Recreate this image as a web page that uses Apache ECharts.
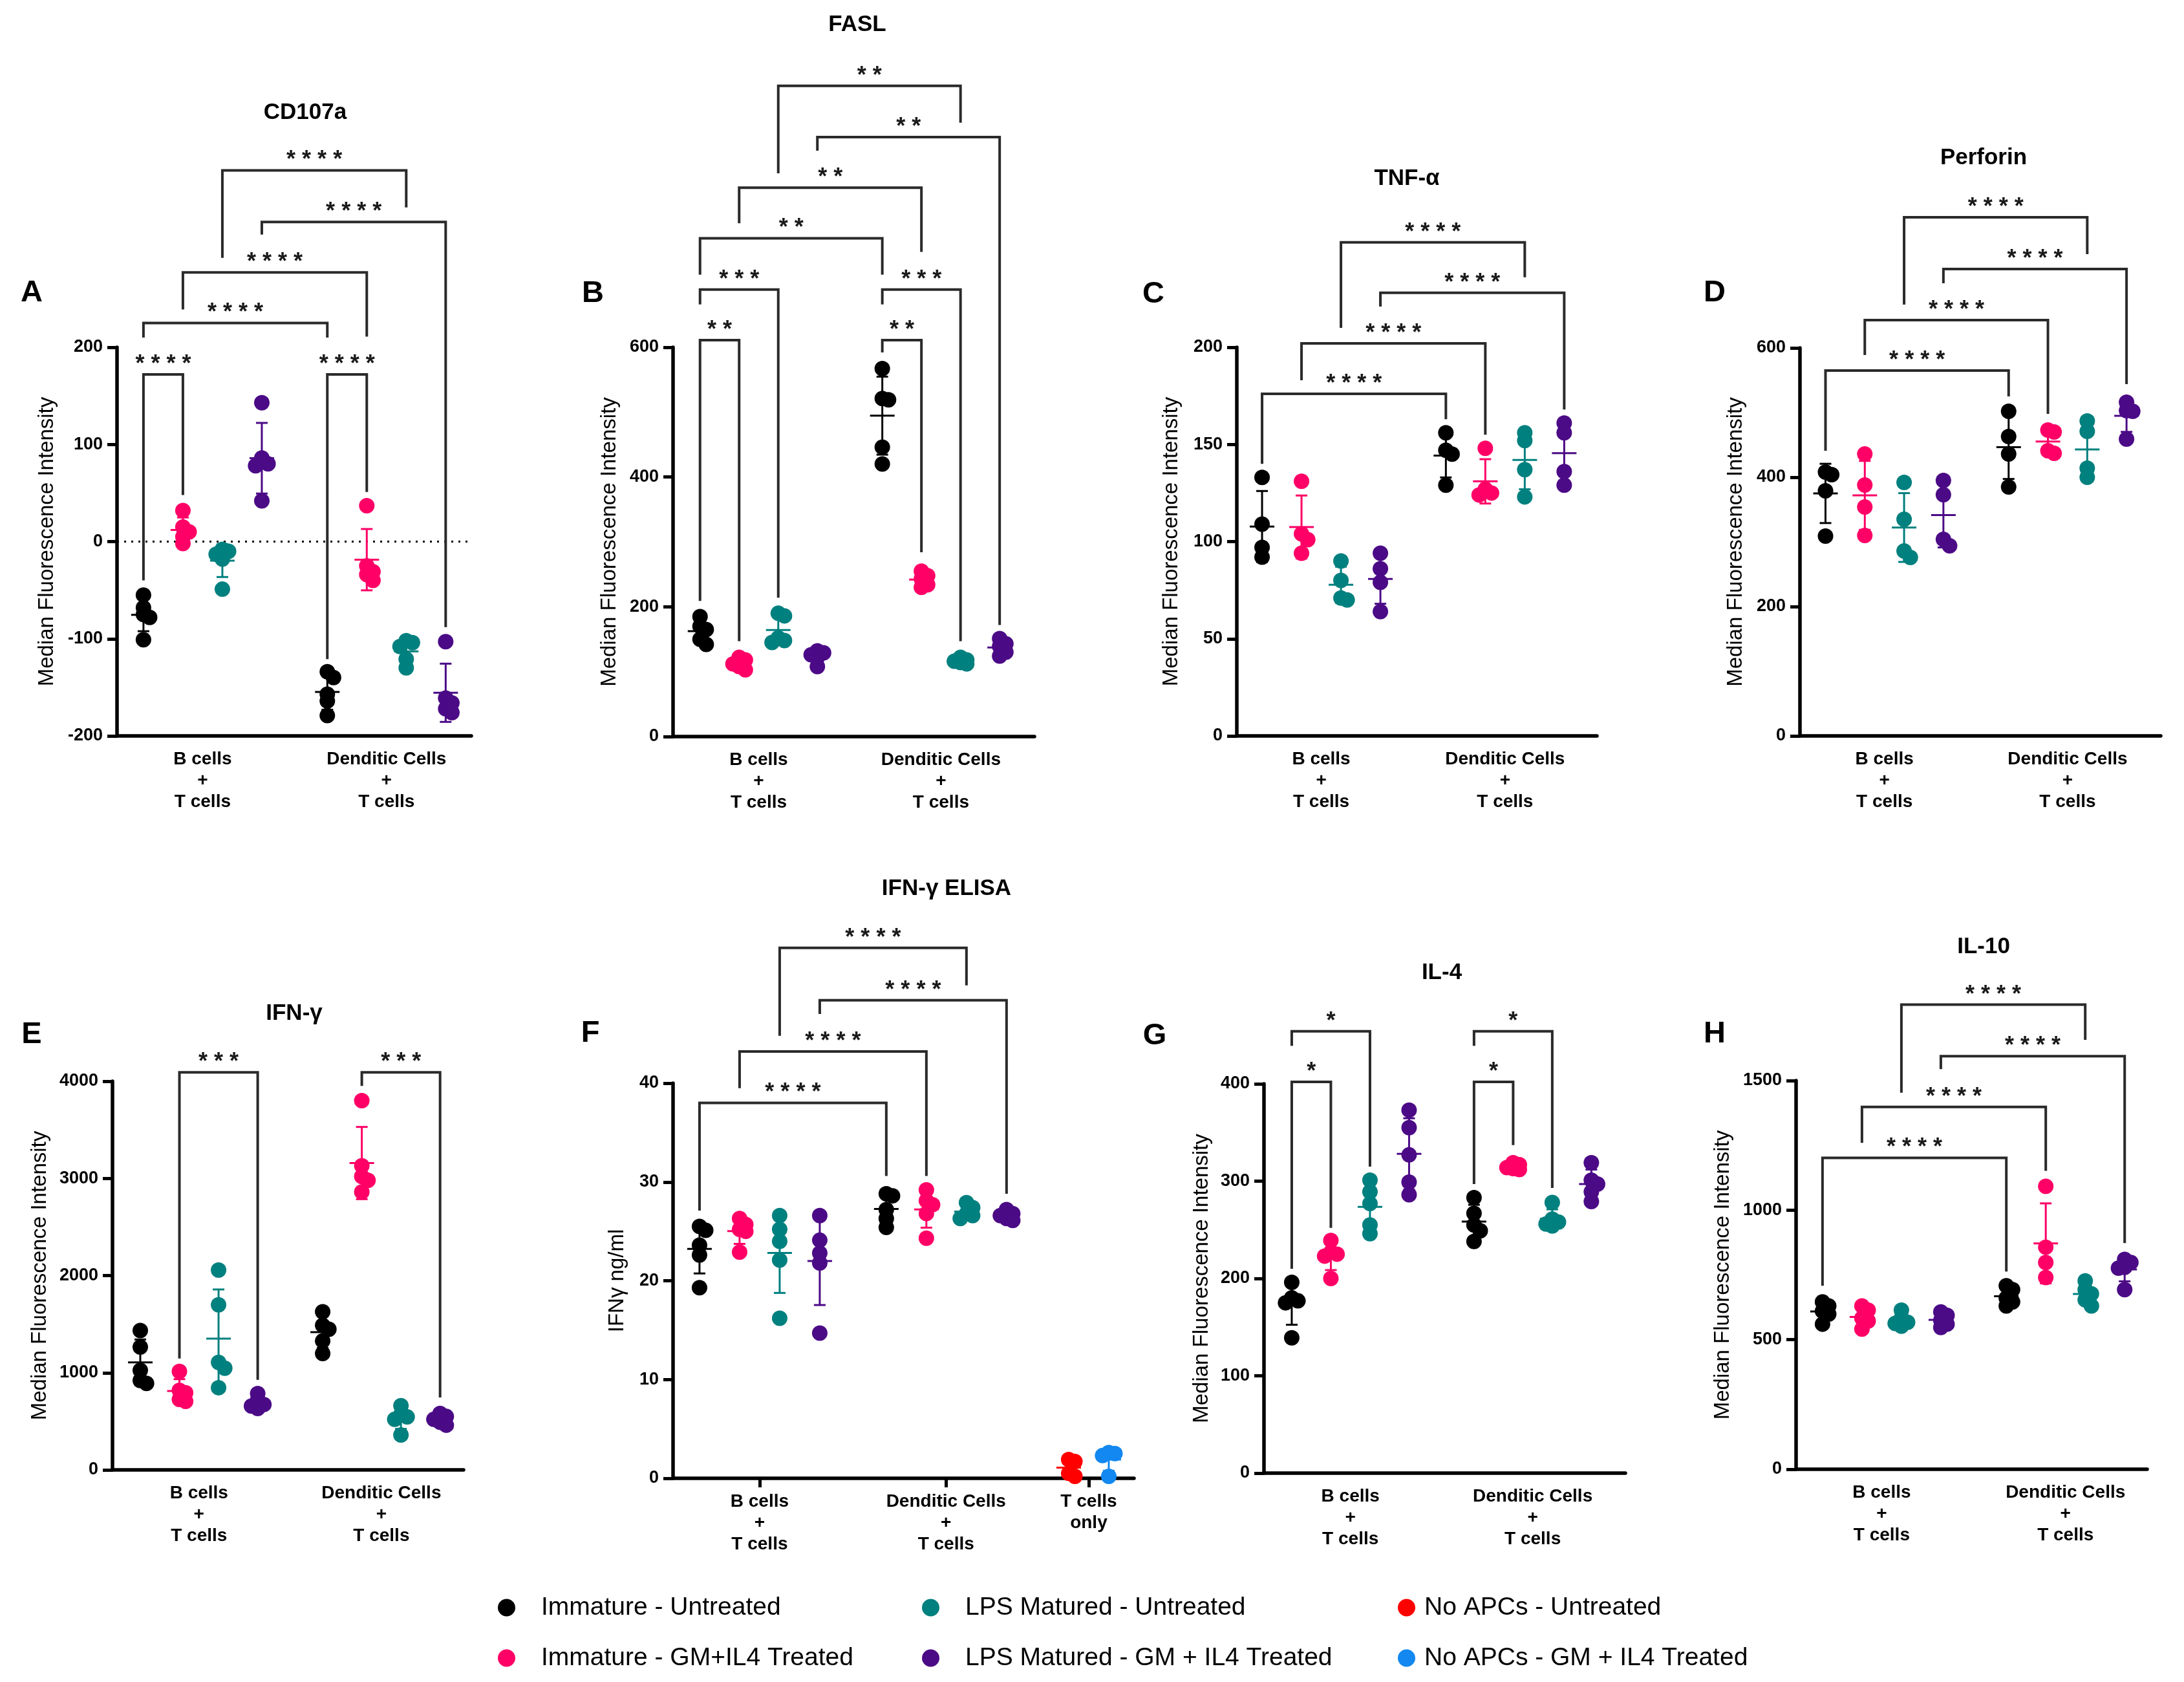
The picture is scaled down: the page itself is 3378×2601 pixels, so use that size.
<!DOCTYPE html>
<html><head><meta charset="utf-8">
<script src="https://cdn.jsdelivr.net/npm/echarts@6/dist/echarts.min.js"></script>
<style>html,body{margin:0;padding:0;background:#fff;}#chart{width:3378px;height:2601px;}</style>
</head><body><div id="chart"></div>
<script>
// ---------------- data ----------------
const groupNames = ['Immature - Untreated', 'Immature - GM+IL4 Treated', 'LPS Matured - Untreated', 'LPS Matured - GM + IL4 Treated'];
const noApcNames = ['No APCs - Untreated', 'No APCs - GM + IL4 Treated'];
const categoryLabels = ['B cells\n+\nT cells', 'Denditic Cells\n+\nT cells'];
const tOnlyLabel = 'T cells\nonly';

// CD107a
const cd107aTicks = [-200, -100, 0, 100, 200];
const cd107aB = [[-55, -68, -75, -78, -101], [32, 15, 10, 5, -2], [-8, -10, -13, -18, -49], [143, 86, 80, 78, 42]];
const cd107aDC = [[-134, -140, -157, -164, -179], [37, -25, -31, -34, -40], [-102, -104, -108, -121, -130], [-103, -161, -166, -172, -176]];
const cd107aSig = [[0, 1, '****', 172, -40, 48], [4, 5, '****', 172, -121, 51], [0, 4, '****', 225, 210, 210], [1, 5, '****', 277, 239, 211], [3, 7, '****', 329, 316, -88], [2, 6, '****', 382, 292, 344]];
// FASL
const faslTicks = [0, 200, 400, 600];
const faslB = [[185, 170, 165, 150, 142], [122, 118, 112, 108, 103], [190, 186, 152, 148, 145], [132, 129, 126, 122, 108]];
const faslDC = [[567, 521, 519, 446, 420], [255, 248, 243, 234, 230], [122, 118, 116, 114, 112], [151, 143, 139, 130, 124]];
const faslSig = [[0, 1, '**', 611, 209, 147], [0, 2, '***', 689, 666, 214], [0, 4, '**', 768, 712, 712], [1, 5, '**', 846, 791, 747], [3, 7, '**', 924, 903, 172], [2, 6, '**', 1003, 868, 946], [4, 5, '**', 611, 592, 284], [4, 6, '***', 689, 666, 147]];
// TNF-a
const tnfTicks = [0, 50, 100, 150, 200];
const tnfB = [[133, 109, 97, 92], [131, 104, 101, 94], [90, 80, 71, 70], [94, 86, 79, 64]];
const tnfDC = [[156, 147, 145, 129], [148, 127, 125, 124], [156, 152, 137, 123], [161, 156, 136, 129]];
const tnfSig = [[0, 4, '****', 176, 140, 163], [1, 5, '****', 202, 183, 155], [3, 7, '****', 228, 221, 168], [2, 6, '****', 254, 210, 236]];
// Perforin
const perforinTicks = [0, 200, 400, 600];
const perforinB = [[408, 404, 379, 309], [436, 388, 354, 310], [392, 335, 286, 276], [395, 373, 304, 294]];
const perforinDC = [[502, 463, 436, 385], [473, 470, 441, 437], [487, 471, 414, 400], [516, 503, 502, 459]];
const perforinSig = [[0, 4, '****', 565, 441, 525], [1, 5, '****', 643, 589, 498], [3, 7, '****', 722, 700, 544], [2, 6, '****', 802, 667, 745]];
// IFN-g (MFI)
const ifngTicks = [0, 1000, 2000, 3000, 4000];
const ifngB = [[1435, 1265, 1025, 920, 890], [1014, 818, 794, 725, 705], [2056, 1699, 1106, 1046, 846], [786, 717, 673, 657, 633]];
const ifngDC = [[1627, 1487, 1447, 1327, 1198], [3800, 3130, 3020, 2980, 2860], [660, 570, 545, 520, 360], [580, 550, 520, 490, 460]];
const ifngSig = [[1, 3, '***', 4092, 1146, 926], [5, 7, '***', 4092, 3952, 745]];
// IFN-g ELISA
const elisaTicks = [0, 10, 20, 30, 40];
const elisaB = [[25.5, 25.1, 23.6, 22.6, 19.3], [26.3, 25.7, 25.2, 25.0, 22.9], [26.6, 25.2, 24.0, 22.1, 16.2], [26.6, 24.1, 22.8, 21.8, 14.7]];
const elisaDC = [[28.8, 28.6, 27.2, 26.3, 25.4], [29.2, 28.1, 27.7, 26.8, 24.3], [27.9, 27.4, 26.8, 26.6, 26.3], [27.2, 26.8, 26.6, 26.3, 26.1]];
const elisaTOnly = [[1.9, 1.7, 0.5, 0.2], [2.6, 2.5, 2.3, 0.2]];
const elisaSig = [[0, 4, '****', 38.0, 27.1, 30.6], [1, 5, '****', 43.2, 39.5, 30.6], [3, 7, '****', 48.4, 47.0, 28.8], [2, 6, '****', 53.7, 44.8, 49.9]];
// IL-4
const il4Ticks = [0, 100, 200, 300, 400];
const il4B = [[196, 180, 177, 175, 139], [239, 227, 225, 223, 200], [301, 289, 277, 255, 246], [373, 355, 327, 299, 286]];
const il4DC = [[283, 267, 255, 249, 238], [319, 317, 314, 313, 312], [278, 261, 258, 256, 254], [319, 301, 297, 289, 279]];
const il4Sig = [[0, 1, '*', 402, 210, 252], [0, 2, '*', 454, 439, 315], [4, 5, '*', 402, 297, 337], [4, 6, '*', 454, 439, 293]];
// IL-10
const il10Ticks = [0, 500, 1000, 1500];
const il10B = [[646, 630, 610, 599, 560], [630, 614, 583, 572, 541], [614, 583, 567, 563, 552], [607, 594, 575, 560, 547]];
const il10DC = [[708, 693, 661, 646, 630], [1092, 857, 798, 740], [727, 693, 677, 654, 630], [810, 798, 779, 776, 693]];
const il10Sig = [[0, 4, '****', 1202, 708, 763], [1, 5, '****', 1398, 1260, 1152], [3, 7, '****', 1594, 1544, 873], [2, 6, '****', 1793, 1453, 1657]];

// ---------------- styles / layout ----------------
const colors = ['#000000', '#FF0066', '#00807E', '#4B0A86'];
const noApcColors = ['#FF0000', '#1288F0'];
const FF = "'Liberation Sans', Arial, Helvetica, sans-serif";
const MFI = 'Median Fluorescence Intensity';
const DOT = 24;
const groupPos = [1, 2, 3, 4, 5.66, 6.66, 7.66, 8.66];
const tOnlyPos = [10.21, 11.21];

const panels = [
  { title: 'CD107a', letter: 'A', yName: MFI, B: cd107aB, DC: cd107aDC, sig: cd107aSig, ticks: cd107aTicks, box: [181, 537, 729, 1138], xr: [0.33, 9.31], titleAt: [472, 174], letterAt: [49, 453], yNameX: 73, zero: true },
  { title: 'FASL', letter: 'B', yName: MFI, B: faslB, DC: faslDC, sig: faslSig, ticks: faslTicks, box: [1041, 537, 1600, 1139], xr: [0.31, 9.55], titleAt: [1326, 38], letterAt: [917, 454], yNameX: 943 },
  { title: 'TNF-\u03b1', letter: 'C', yName: MFI, B: tnfB, DC: tnfDC, sig: tnfSig, ticks: tnfTicks, box: [1913, 537, 2470, 1138], xr: [0.36, 9.49], titleAt: [2176, 276], letterAt: [1784, 455], yNameX: 1812 },
  { title: 'Perforin', letter: 'D', yName: MFI, B: perforinB, DC: perforinDC, sig: perforinSig, ticks: perforinTicks, box: [2784, 538, 3342, 1138], xr: [0.35, 9.53], titleAt: [3068, 244], letterAt: [2652, 453], yNameX: 2685 },
  { title: 'IFN-\u03b3', letter: 'E', yName: MFI, B: ifngB, DC: ifngDC, sig: ifngSig, ticks: ifngTicks, box: [174, 1672, 717, 2273], xr: [0.29, 9.26], titleAt: [455, 1567], letterAt: [49, 1600], yNameX: 62 },
  { title: 'IFN-\u03b3 ELISA', letter: 'F', yName: 'IFN\u03b3 ng/ml', B: elisaB, DC: elisaDC, sig: elisaSig, ticks: elisaTicks, box: [1041, 1675, 1754, 2286], xr: [0.34, 11.84], titleAt: [1464, 1374], letterAt: [913, 1598], yNameX: 955, tOnly: elisaTOnly },
  { title: 'IL-4', letter: 'G', yName: MFI, B: il4B, DC: il4DC, sig: il4Sig, ticks: il4Ticks, box: [1955, 1676, 2514, 2278], xr: [0.29, 9.53], titleAt: [2230, 1504], letterAt: [1786, 1602], yNameX: 1859 },
  { title: 'IL-10', letter: 'H', yName: MFI, B: il10B, DC: il10DC, sig: il10Sig, ticks: il10Ticks, box: [2778, 1671, 3321, 2272], xr: [0.33, 9.23], titleAt: [3068, 1464], letterAt: [2652, 1599], yNameX: 2665 }
];

function meanSd(a) {
  const m = a.reduce((s, v) => s + v, 0) / a.length;
  const v = a.reduce((s, x) => s + (x - m) * (x - m), 0) / (a.length - 1);
  return [m, Math.sqrt(v)];
}
// compact beeswarm: small horizontal offsets (in x units); dots may overlap partly
function swarm(values, pxY, pxX) {
  const order = values.map((v, i) => i).sort((a, b) => values[b] - values[a]);
  const placed = [], off = new Array(values.length).fill(0);
  const step = 0.4 * DOT, th = 0.42 * DOT;
  const cands = [0, 1, -1];
  for (const i of order) {
    const y = values[i] * pxY;
    let best = null, bestD = -1;
    for (const k of cands) {
      const x = k * step;
      const dmin = placed.length ? Math.min(...placed.map(p => Math.hypot(p[0] - x, p[1] - y))) : 1e9;
      if (dmin >= th) { best = x; break; }
      if (dmin > bestD) { bestD = dmin; best = x; }
    }
    placed.push([best, y]);
    off[i] = best / pxX;
  }
  return off;
}

const grids = [], xAxes = [], yAxes = [], series = [], graphics = [];
const axisLineStyle = { color: '#000', width: 5.5 };

panels.forEach((p, pi) => {
  const [l, t, r, b] = p.box;
  const ymin = p.ticks[0], ymax = p.ticks[p.ticks.length - 1], yint = p.ticks[1] - p.ticks[0];
  grids.push({ left: l, top: t, width: r - l, height: b - t, containLabel: false, outerBoundsMode: 'none' });
  const centers = p.tOnly ? [2.5, 7.15, 10.71] : [2.5, 7.16];
  const labels = p.tOnly ? [categoryLabels[0], categoryLabels[1], tOnlyLabel] : categoryLabels;
  xAxes.push({
    type: 'value', gridIndex: pi, min: p.xr[0], max: p.xr[1],
    axisLine: { show: true, onZero: false, lineStyle: axisLineStyle },
    axisTick: { show: !!p.tOnly, customValues: centers, length: 14, lineStyle: { color: '#000', width: 5 } },
    axisLabel: {
      customValues: centers, margin: 20, color: '#000', fontFamily: FF, fontSize: 28, fontWeight: 'bold', lineHeight: 33,
      formatter: v => { let k = 0, d = 1e9; centers.forEach((c, i) => { if (Math.abs(c - v) < d) { d = Math.abs(c - v); k = i; } }); return labels[k]; }
    },
    splitLine: { show: false }
  });
  yAxes.push({
    type: 'value', gridIndex: pi, min: ymin, max: ymax, interval: yint,
    axisLine: { show: true, onZero: false, lineStyle: axisLineStyle },
    axisTick: { show: true, length: 15, lineStyle: { color: '#000', width: 5 } },
    axisLabel: { margin: 22, color: '#000', fontFamily: FF, fontSize: 27, fontWeight: 'bold', formatter: v => String(v) },
    splitLine: { show: false }
  });
  const pxY = (b - t) / (ymax - ymin), pxX = (r - l) / (p.xr[1] - p.xr[0]);
  const all = p.B.concat(p.DC);
  const bars = [];
  for (let c = 0; c < 4; c++) {
    const pts = [];
    [c, c + 4].forEach(g => {
      const vals = all[g];
      const off = swarm(vals, pxY, pxX);
      vals.forEach((v, i) => pts.push([groupPos[g] + off[i], v]));
      const [m, s] = meanSd(vals);
      bars.push([groupPos[g], m, s, c]);
    });
    const s = {
      type: 'scatter', name: groupNames[c], xAxisIndex: pi, yAxisIndex: pi, data: pts,
      symbol: 'circle', symbolSize: DOT, itemStyle: { color: colors[c], opacity: 1 }, z: 3, silent: true
    };
    if (p.zero && c === 0) {
      s.markLine = { silent: true, symbol: 'none', label: { show: false }, lineStyle: { color: '#000', width: 3, type: [3, 8] }, data: [{ yAxis: 0 }], z: 1 };
    }
    series.push(s);
  }
  if (p.tOnly) {
    p.tOnly.forEach((vals, k) => {
      const off = swarm(vals, pxY, pxX);
      series.push({
        type: 'scatter', name: noApcNames[k], xAxisIndex: pi, yAxisIndex: pi,
        data: vals.map((v, i) => [tOnlyPos[k] + off[i], v]),
        symbol: 'circle', symbolSize: DOT, itemStyle: { color: noApcColors[k], opacity: 1 }, z: 3, silent: true
      });
      const [m, s] = meanSd(vals);
      bars.push([tOnlyPos[k], m, s, 4 + k]);
    });
  }
  // mean +/- SD error bars
  series.push({
    type: 'custom', xAxisIndex: pi, yAxisIndex: pi, data: bars, z: 4, silent: true, clip: false,
    encode: { x: 0, y: 1 },
    renderItem: (params, api) => {
      const x = api.value(0), m = api.value(1), sd = api.value(2), ci = api.value(3);
      const col = ci < 4 ? colors[ci] : noApcColors[ci - 4];
      const pm = api.coord([x, m]), pt = api.coord([x, m + sd]), pb = api.coord([x, m - sd]);
      const st = { stroke: col, lineWidth: 3, fill: 'none' };
      return {
        type: 'group', children: [
          { type: 'line', shape: { x1: pm[0], y1: pt[1], x2: pm[0], y2: pb[1] }, style: st },
          { type: 'line', shape: { x1: pm[0] - 19, y1: pm[1], x2: pm[0] + 19, y2: pm[1] }, style: st },
          { type: 'line', shape: { x1: pm[0] - 9, y1: pt[1], x2: pm[0] + 9, y2: pt[1] }, style: st },
          { type: 'line', shape: { x1: pm[0] - 9, y1: pb[1], x2: pm[0] + 9, y2: pb[1] }, style: st }
        ]
      };
    }
  });
  // significance brackets
  const sig = p.sig;
  series.push({
    type: 'custom', xAxisIndex: pi, yAxisIndex: pi, z: 5, silent: true, clip: false,
    data: sig.map(s => [groupPos[s[0]], groupPos[s[1]], s[3], s[4], s[5]]),
    encode: { x: 0, y: 2 },
    renderItem: (params, api) => {
      const x1 = api.value(0), x2 = api.value(1), top = api.value(2), l1 = api.value(3), l2 = api.value(4);
      const a = api.coord([x1, l1]), bb = api.coord([x1, top]), c = api.coord([x2, top]), d = api.coord([x2, l2]);
      const stars = sig[params.dataIndex][2].split('').join(' ');
      return {
        type: 'group', children: [
          { type: 'polyline', shape: { points: [a, bb, c, d] }, style: { stroke: '#2a2a2a', lineWidth: 4, fill: 'none', lineJoin: 'miter' } },
          { type: 'text', x: (bb[0] + c[0]) / 2, y: bb[1] - 15, style: { text: stars, font: 'bold 36px ' + FF, fill: '#1a1a1a', align: 'center', verticalAlign: 'middle', textAlign: 'center', textVerticalAlign: 'middle' } }
        ]
      };
    }
  });
  // texts
  graphics.push({ type: 'text', x: p.titleAt[0], y: p.titleAt[1], silent: true, style: { text: p.title, font: 'bold 35px ' + FF, fill: '#000', align: 'center', verticalAlign: 'middle', textAlign: 'center', textVerticalAlign: 'middle' } });
  graphics.push({ type: 'text', x: p.letterAt[0], y: p.letterAt[1], silent: true, style: { text: p.letter, font: 'bold 47px ' + FF, fill: '#000', align: 'center', verticalAlign: 'middle', textAlign: 'center', textVerticalAlign: 'middle' } });
  graphics.push({ type: 'text', x: p.yNameX, y: (t + b) / 2, rotation: Math.PI / 2, silent: true, style: { text: p.yName, font: '33px ' + FF, fill: '#000', align: 'center', verticalAlign: 'middle', textAlign: 'center', textVerticalAlign: 'middle' } });
});

const legendBase = {
  orient: 'vertical', top: 2466, itemWidth: 27, itemHeight: 27, itemGap: 38, padding: 0, icon: 'circle', selectedMode: false,
  textStyle: { fontFamily: FF, fontSize: 39, color: '#000', lineHeight: 40 }
};
const legends = [
  Object.assign({}, legendBase, { left: 770, data: [groupNames[0], groupNames[1]], textStyle: Object.assign({}, legendBase.textStyle, { padding: [0, 0, 0, 35] }) }),
  Object.assign({}, legendBase, { left: 1426, data: [groupNames[2], groupNames[3]], textStyle: Object.assign({}, legendBase.textStyle, { padding: [0, 0, 0, 35] }) }),
  Object.assign({}, legendBase, { left: 2162, data: [noApcNames[0], noApcNames[1]], textStyle: Object.assign({}, legendBase.textStyle, { padding: [0, 0, 0, 9] }) })
];

const chart = echarts.init(document.getElementById('chart'), null, { renderer: 'canvas', width: 3378, height: 2601 });
chart.setOption({
  backgroundColor: '#ffffff',
  animation: false,
  grid: grids, xAxis: xAxes, yAxis: yAxes, series: series,
  legend: legends,
  graphic: { elements: graphics }
});
</script></body></html>
